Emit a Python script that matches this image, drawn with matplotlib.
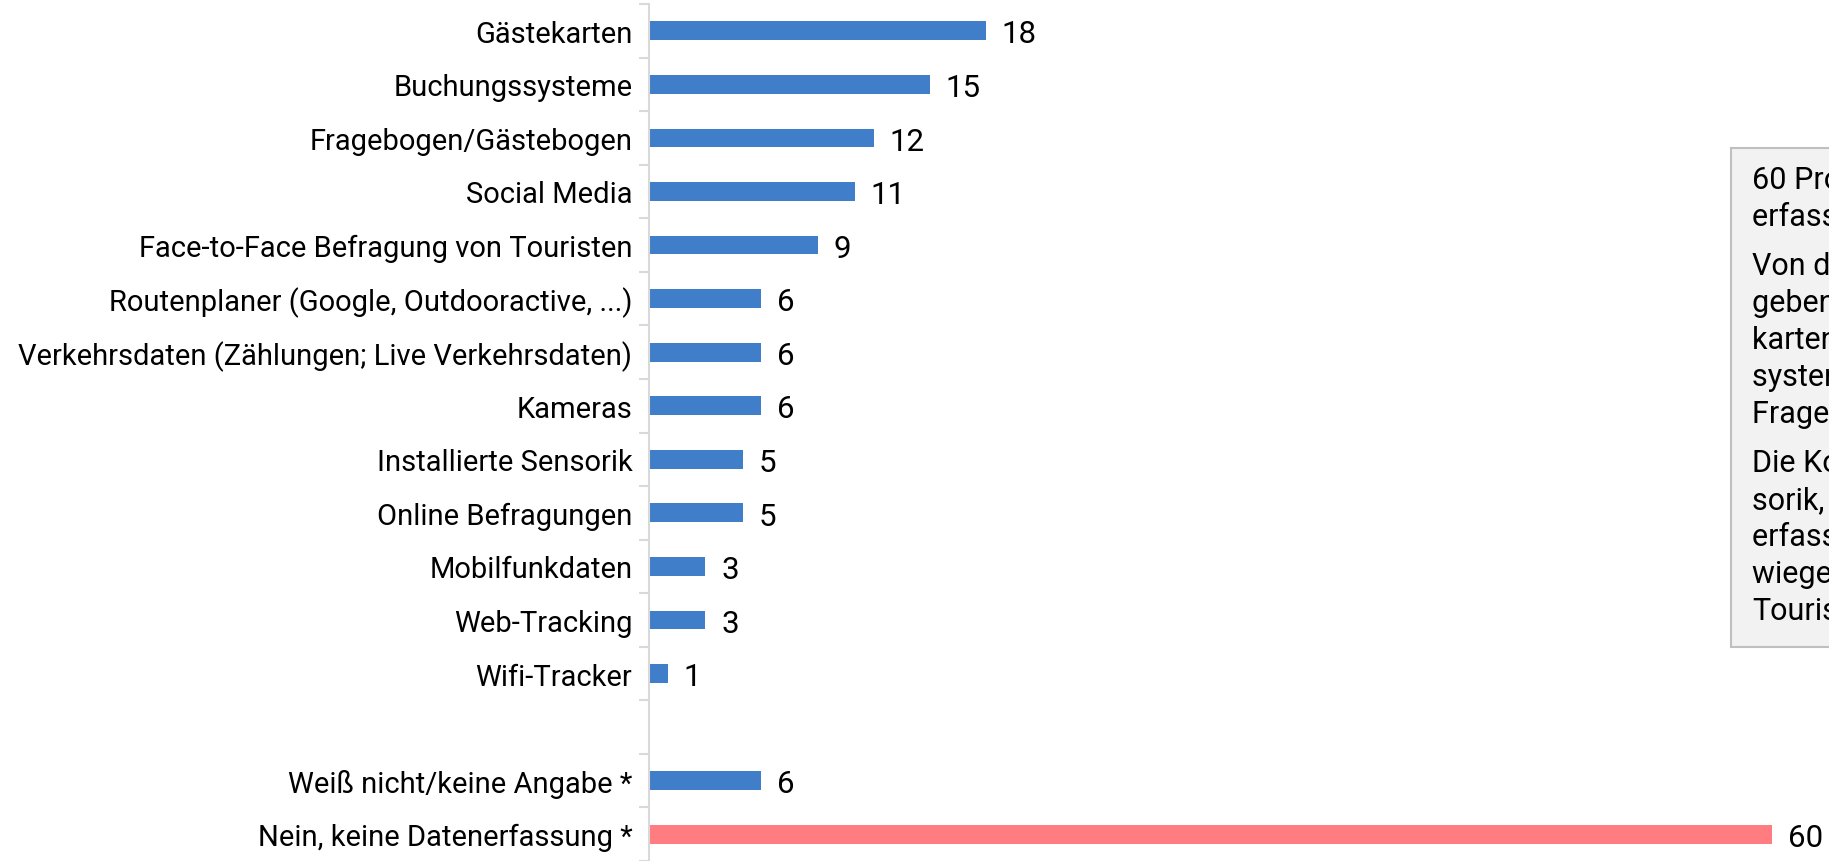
import numpy as np
import matplotlib.pyplot as plt
from matplotlib.patches import Rectangle

# =========================================================
# DATA
# =========================================================
CATEGORIES = [
    "Gästekarten",
    "Buchungssysteme",
    "Fragebogen/Gästebogen",
    "Social Media",
    "Face-to-Face Befragung von Touristen",
    "Routenplaner (Google, Outdooractive, ...)",
    "Verkehrsdaten (Zählungen; Live Verkehrsdaten)",
    "Kameras",
    "Installierte Sensorik",
    "Online Befragungen",
    "Mobilfunkdaten",
    "Web-Tracking",
    "Wifi-Tracker",
    "",
    "Weiß nicht/keine Angabe *",
    "Nein, keine Datenerfassung *",
]
VALUES = [18, 15, 12, 11, 9, 6, 6, 6, 5, 5, 3, 3, 1, np.nan, 6, 60]
HIGHLIGHT = "Nein, keine Datenerfassung *"

# text box on the right (cut off by the figure edge, as in the original)
BOX_PARAGRAPHS = [
    ["60 Prozent der Befragten", "erfassen keine Daten."],
    ["Von den Datenerfassenden", "geben die meisten Gäste-", "karten, Buchungs-",
     "systeme und", "Fragebogen an."],
    ["Die Kombination von Sen-", "sorik, Kameras und Daten-", "erfassung erfolgt über-",
     "wiegend bei wenigen", "Tourismusorganisationen."],
]

BLUE = "#407EC9"
RED = "#FF7C80"
GRID = "#D9D9D9"

# =========================================================
# PLOT
# =========================================================
plt.rcParams["font.family"] = ["Roboto", "DejaVu Sans"]

W, H = 1829, 862
fig = plt.figure(figsize=(W / 100, H / 100), dpi=100)
ax = fig.add_axes([649 / W, 0, 1 - 649 / W, 857 / H])

pos = np.arange(len(CATEGORIES))
colors = [RED if c == HIGHLIGHT else BLUE for c in CATEGORIES]
vals = np.array(VALUES, dtype=float)

ax.barh(pos, np.nan_to_num(vals), height=0.35, color=colors)

for p, v in zip(pos, vals):
    if np.isnan(v):
        continue
    ax.text(v + 0.85, p + 0.06, f"{int(v)}", va="center", ha="left",
            fontsize=22.5, color="black")

ax.set_xlim(0, (W - 649) / (337 / 18))
ax.set_ylim(len(CATEGORIES) - 0.5, -0.5)

ax.set_yticks(pos)
ax.set_yticklabels(CATEGORIES, fontsize=21)
ax.set_yticks(np.arange(len(CATEGORIES) + 1) - 0.5, minor=True)
ax.tick_params(axis="y", which="major", length=0, pad=12)
ax.tick_params(axis="y", which="minor", length=7, width=1.5, color=GRID)
ax.set_xticks([])

for s in ["top", "right", "bottom"]:
    ax.spines[s].set_visible(False)
ax.spines["left"].set_color(GRID)
ax.spines["left"].set_linewidth(1.5)

# ── Annotation box ─────────────────────────────────────────
bx, by_top, by_bot = 1731, 149, 648
fig.patches.append(Rectangle((bx / W, 1 - by_bot / H), 0.2, (by_bot - by_top) / H,
                             transform=fig.transFigure, facecolor="#F2F2F2",
                             edgecolor="#BFBFBF", linewidth=1.5, zorder=0))

step, gap = 37, 12
y = 189
for para in BOX_PARAGRAPHS:
    for line in para:
        fig.text(1752 / W, 1 - y / H, line, ha="left", va="baseline",
                 fontsize=22, color="black")
        y += step
    y += gap

fig.savefig("out.png", dpi=100)
